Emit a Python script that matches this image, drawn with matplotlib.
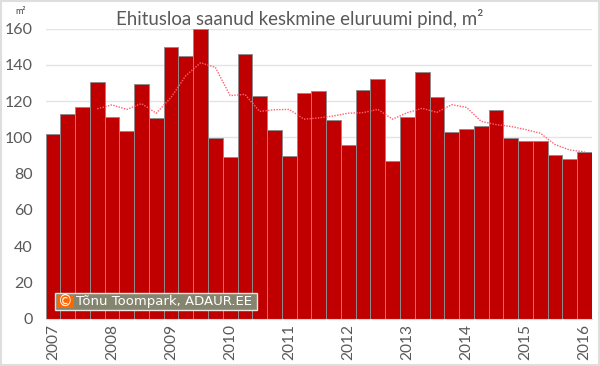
import matplotlib
matplotlib.use('Agg')
import matplotlib.pyplot as plt
from matplotlib.patches import Rectangle
import numpy as np

plt.rcParams['font.family'] = ['Lato', 'DejaVu Sans']

values = [102, 113, 116.6, 130.4, 111, 103.4, 129.5, 110.5, 150, 144.8, 159.7, 99.9,
          88.9, 146.2, 122.9, 104.3, 89.6, 124.5, 125.6, 109.8, 95.5, 126, 132, 87.2,
          111.3, 136, 122.5, 103, 104.8, 106.1, 114.8, 99.5, 97.7, 97.7, 90.5, 88.1, 92]
# moving average, starts at the 4th quarter
avg = [115.7, 117.9, 115.4, 118.6, 113.3, 122, 134, 141.1, 138.6, 123, 123.7, 114.3,
       115.2, 115.4, 110, 110.7, 111.8, 113.3, 113.6, 115.4, 110, 113.6, 116, 113.8,
       118, 116.5, 108.8, 107, 106, 104.3, 102.3, 96, 93, 92]
years = ['2007', '2008', '2009', '2010', '2011', '2012', '2013', '2014', '2015', '2016']
yticks = [0, 20, 40, 60, 80, 100, 120, 140, 160]

W, H = 600, 366
grey = '#595959'

fig = plt.figure(figsize=(W / 100, H / 100), dpi=100)
ax = fig.add_axes([45.5 / W, 1 - 318.7 / H, 546.5 / W, 290.2 / H])

x = np.arange(len(values))
ax.bar(x, values, width=1.0, color='#c00000', edgecolor='#948a8a', linewidth=0.7, zorder=2)
ax.plot(x[3:], avg, color='#ff6070', linestyle=(0, (1, 1)), linewidth=1.0, zorder=3)

ax.set_xlim(-0.5, len(values) - 0.5)
ax.set_ylim(0, 160)
ax.set_yticks(yticks)
ax.set_yticklabels([str(v) for v in yticks], fontsize=11.5, color=grey)
ax.set_xticks(x[::4])
ax.set_xticklabels(years, rotation=90, fontsize=11.2, color=grey)
ax.tick_params(axis='y', length=0, pad=9)
ax.tick_params(axis='x', length=0, pad=3.5)
ax.grid(axis='y', color='#e4e4e4', linewidth=1, zorder=0)
ax.set_axisbelow(True)
for s in ax.spines.values():
    s.set_visible(False)
ax.spines['bottom'].set_visible(True)
ax.spines['bottom'].set_color('#d9d9d9')

fig.text(300 / W, 1 - 18 / H, 'Ehitusloa saanud keskmine eluruumi pind, m²', fontsize=13.4,
         color=grey, ha='center', va='center')
fig.text(20.5 / W, 1 - 11 / H, 'm²', fontsize=6.5, color='#404040', ha='center', va='center')

# watermark
fig.add_artist(Rectangle((54.5 / W, 1 - 310 / H), 202 / W, 17.5 / H, transform=fig.transFigure,
                         facecolor='#85856f', edgecolor='#e8e8e0', linewidth=1, zorder=5))
fig.add_artist(Rectangle((56.5 / W, 1 - 308 / H), 17.5 / W, 13.5 / H, transform=fig.transFigure,
                         facecolor='#ff6600', edgecolor='none', zorder=6))
fig.text(65.2 / W, 1 - 301.3 / H, '©', fontsize=10.5, color='white', ha='center', va='center',
         family='DejaVu Sans', zorder=7)
fig.text(76 / W, 1 - 301.5 / H, 'Tõnu Toompark, ADAUR.EE', fontsize=9.5, color='white', ha='left',
         va='center', family='DejaVu Sans', zorder=7)

# outer frame
fig.add_artist(Rectangle((0.75 / W, 0.75 / H), (W - 1.5) / W, (H - 1.5) / H, transform=fig.transFigure,
                         facecolor='none', edgecolor='#dedede', linewidth=1.5))

fig.savefig('out.png', dpi=100)
